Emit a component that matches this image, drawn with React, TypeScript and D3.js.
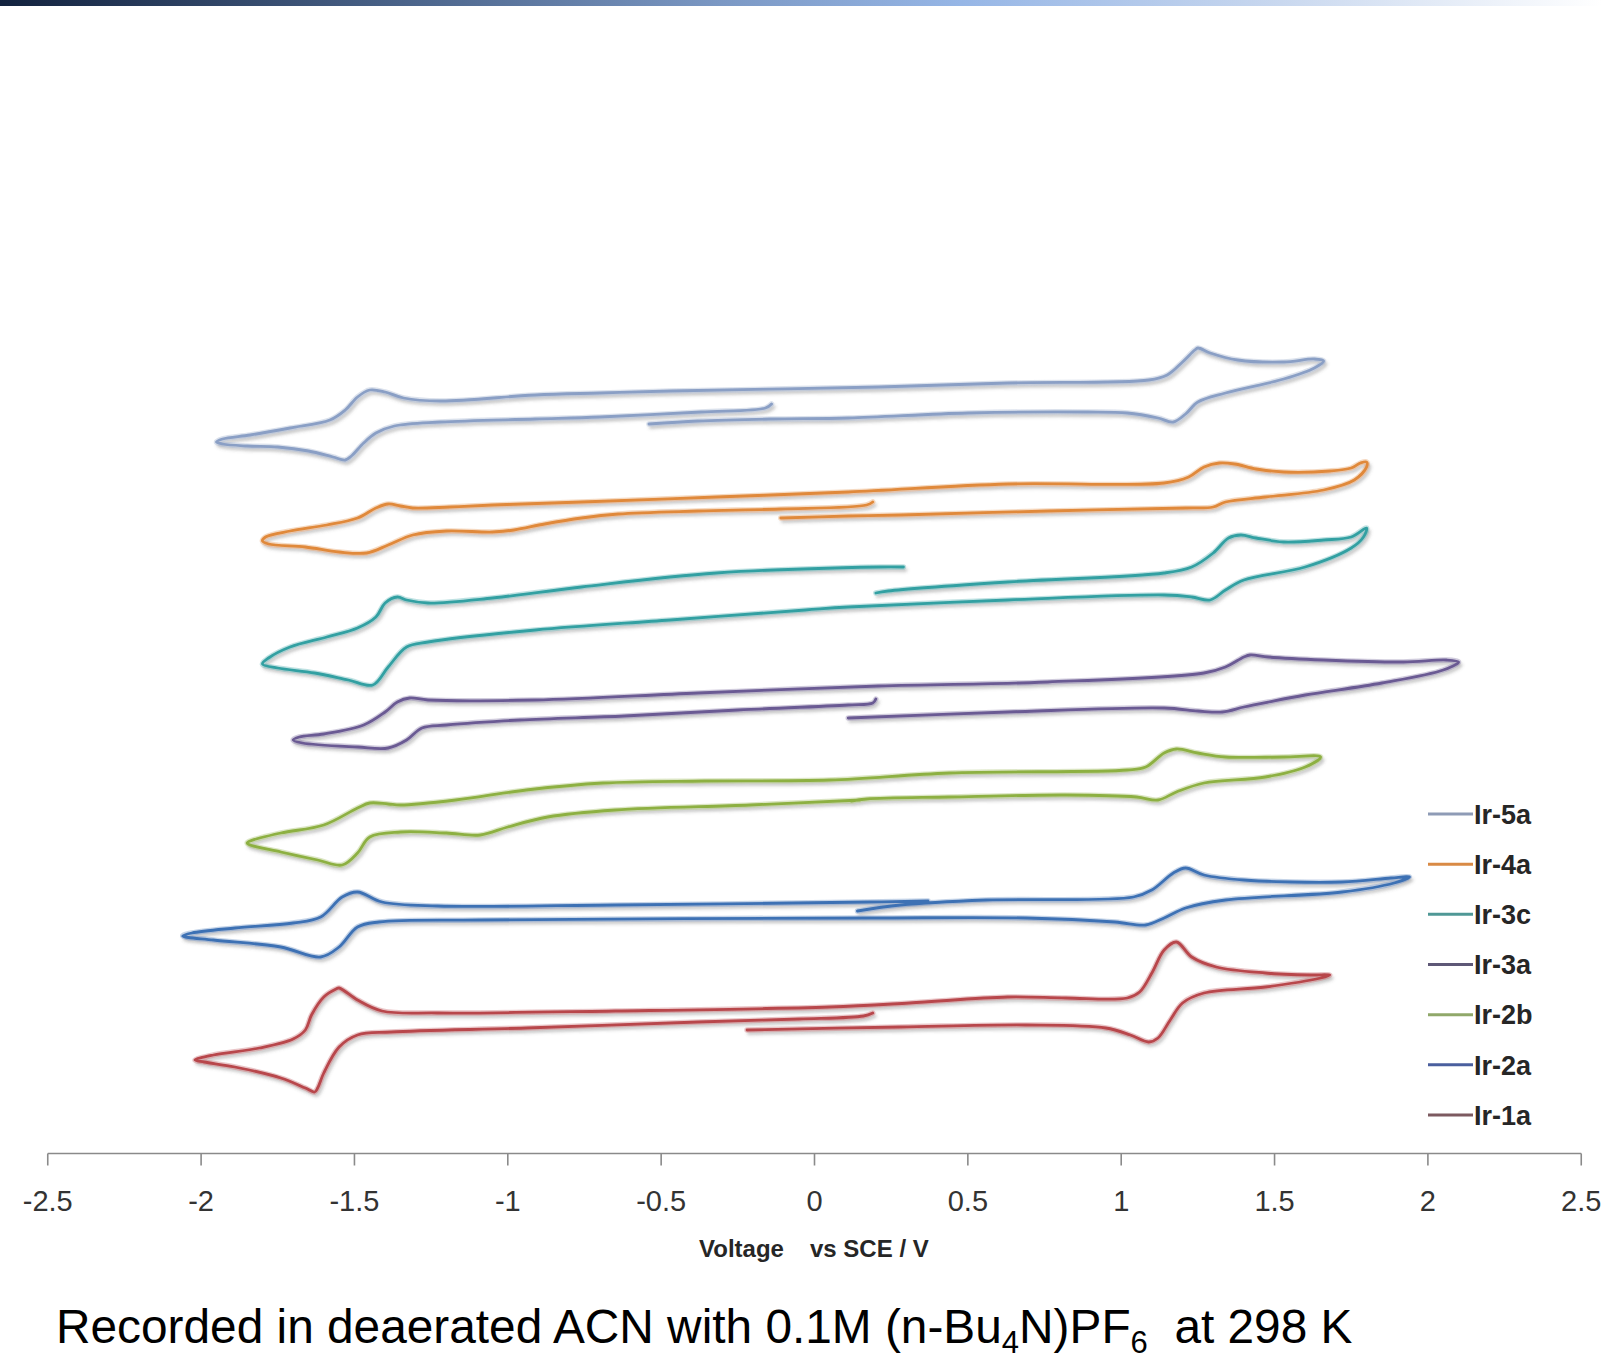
import React from 'react';
import * as d3 from 'd3';

// cyclic voltammograms, stacked; x = potential vs SCE (V), y = offset current (a.u.)
const ir5a: [number, number][] = [
  [-0.14, 74.6], [-0.16, 74.2], [-0.37, 73.8], [-0.70, 73.3], [-0.91, 73.1], [-1.22, 72.8], [-1.37, 72.4],
  [-1.43, 71.7], [-1.47, 70.7], [-1.51, 69.4], [-1.53, 69.0], [-1.57, 69.3], [-1.65, 69.9], [-1.75, 70.3],
  [-1.85, 70.4], [-1.93, 70.6], [-1.95, 70.8], [-1.93, 71.1], [-1.84, 71.5], [-1.71, 72.2], [-1.58, 73.0],
  [-1.53, 74.0], [-1.49, 75.3], [-1.45, 76.0], [-1.40, 75.8], [-1.34, 75.2], [-1.22, 74.9], [-0.91, 75.5],
  [-0.70, 75.7], [-0.47, 75.9], [0.21, 76.3], [0.63, 76.7], [1.09, 77.0], [1.15, 77.5], [1.20, 78.8],
  [1.24, 80.0], [1.25, 80.2], [1.29, 79.7], [1.38, 79.0], [1.53, 78.8], [1.63, 79.1], [1.66, 78.9],
  [1.63, 78.2], [1.53, 77.1], [1.34, 75.7], [1.25, 74.8], [1.21, 73.6], [1.17, 72.8], [1.12, 73.2],
  [1.02, 73.7], [0.89, 73.8], [0.50, 73.7], [0.11, 73.2], [-0.14, 73.1], [-0.38, 72.9], [-0.54, 72.6],
];

const ir4a: [number, number][] = [
  [0.19, 64.8], [0.17, 64.5], [-0.11, 64.1], [-0.38, 63.9], [-0.64, 63.6], [-0.76, 63.2], [-0.88, 62.6],
  [-0.98, 62.0], [-1.05, 61.8], [-1.20, 61.9], [-1.31, 61.5], [-1.39, 60.5], [-1.46, 59.7], [-1.55, 59.8],
  [-1.66, 60.3], [-1.78, 60.6], [-1.80, 60.9], [-1.79, 61.3], [-1.71, 61.9], [-1.59, 62.5], [-1.49, 63.2],
  [-1.43, 64.2], [-1.39, 64.6], [-1.35, 64.4], [-1.31, 64.2], [-1.19, 64.3], [-1.05, 64.5], [-0.76, 64.8],
  [-0.32, 65.3], [0.11, 65.8], [0.63, 66.6], [1.14, 66.7], [1.22, 67.3], [1.27, 68.3], [1.32, 68.7],
  [1.37, 68.6], [1.44, 68.1], [1.53, 67.8], [1.68, 67.9], [1.75, 68.2], [1.78, 68.7], [1.80, 68.8],
  [1.80, 68.3], [1.76, 67.0], [1.66, 66.0], [1.47, 65.3], [1.34, 64.8], [1.30, 64.3], [1.21, 64.2],
  [0.76, 63.9], [0.28, 63.5], [0.11, 63.4], [-0.11, 63.2],
];

const ir3c: [number, number][] = [
  [0.20, 55.7], [0.24, 55.9], [0.63, 56.8], [1.14, 57.7], [1.23, 58.3], [1.30, 59.7], [1.35, 61.2],
  [1.39, 61.5], [1.44, 61.2], [1.53, 60.8], [1.66, 61.0], [1.75, 61.3], [1.80, 62.2], [1.79, 61.3],
  [1.75, 60.2], [1.60, 58.3], [1.40, 57.0], [1.34, 56.0], [1.29, 55.0], [1.23, 55.3], [1.14, 55.5],
  [0.63, 55.0], [0.11, 54.3], [-0.03, 54.0], [-0.47, 53.0], [-0.91, 52.0], [-1.26, 50.8], [-1.33, 50.3],
  [-1.39, 48.3], [-1.44, 46.5], [-1.52, 47.0], [-1.63, 47.7], [-1.75, 48.2], [-1.80, 48.6], [-1.78, 49.2],
  [-1.71, 50.3], [-1.59, 51.3], [-1.49, 52.2], [-1.43, 53.3], [-1.40, 54.7], [-1.36, 55.3], [-1.33, 55.0],
  [-1.26, 54.7], [-1.05, 55.2], [-0.76, 56.3], [-0.32, 57.7], [0.21, 58.3], [0.29, 58.3],
];

const ir3a: [number, number][] = [
  [0.20, 45.1], [0.19, 44.7], [0.11, 44.5], [-0.25, 44.0], [-0.62, 43.4], [-0.96, 43.0], [-1.20, 42.5],
  [-1.28, 42.2], [-1.33, 41.0], [-1.39, 40.2], [-1.49, 40.3], [-1.67, 40.7], [-1.70, 41.0], [-1.68, 41.3],
  [-1.60, 41.6], [-1.47, 42.5], [-1.40, 43.8], [-1.36, 44.8], [-1.32, 45.2], [-1.26, 45.0], [-0.91, 45.0],
  [-0.38, 45.7], [0.21, 46.4], [0.76, 46.8], [1.27, 47.7], [1.34, 48.3], [1.40, 49.3], [1.42, 49.5],
  [1.48, 49.3], [1.66, 49.0], [1.92, 48.8], [2.06, 49.0], [2.10, 48.8], [2.05, 48.0], [1.85, 46.7],
  [1.60, 45.5], [1.48, 44.8], [1.40, 44.3], [1.33, 43.8], [1.25, 43.9], [1.14, 44.2], [0.63, 43.8],
  [0.11, 43.2],
];

const ir2b: [number, number][] = [
  [0.15, 35.0], [-0.21, 34.5], [-0.65, 34.0], [-0.87, 33.3], [-1.00, 32.3], [-1.09, 31.5], [-1.20, 31.7],
  [-1.35, 31.8], [-1.45, 31.3], [-1.49, 29.7], [-1.54, 28.5], [-1.62, 29.0], [-1.74, 29.8], [-1.84, 30.5],
  [-1.85, 30.7], [-1.84, 30.9], [-1.74, 31.7], [-1.60, 32.5], [-1.49, 34.2], [-1.45, 34.7], [-1.39, 34.6],
  [-1.35, 34.5], [-1.17, 35.0], [-0.94, 36.0], [-0.69, 36.7], [-0.36, 36.9], [0.05, 37.0], [0.44, 37.7],
  [1.02, 38.0], [1.08, 38.3], [1.14, 39.7], [1.18, 40.1], [1.25, 39.7], [1.34, 39.3], [1.53, 39.3],
  [1.65, 39.3], [1.60, 38.3], [1.47, 37.3], [1.27, 36.7], [1.18, 35.8], [1.12, 35.0], [1.05, 35.3],
  [0.82, 35.5], [0.44, 35.3], [0.17, 35.1], [0.12, 34.9],
];

const ir2a: [number, number][] = [
  [0.14, 23.9], [0.28, 24.5], [0.56, 25.0], [1.04, 25.3], [1.10, 26.0], [1.17, 27.7], [1.21, 28.2],
  [1.27, 27.5], [1.40, 27.0], [1.72, 26.8], [1.88, 27.2], [1.94, 27.3], [1.89, 26.7], [1.72, 25.8],
  [1.34, 25.0], [1.21, 24.2], [1.14, 23.2], [1.08, 22.5], [0.98, 22.8], [0.69, 23.2], [0.18, 23.2],
  [-1.09, 23.0], [-1.42, 22.8], [-1.49, 22.3], [-1.55, 20.3], [-1.61, 19.3], [-1.74, 20.3], [-1.96, 21.0],
  [-2.06, 21.4], [-2.03, 21.7], [-1.89, 22.2], [-1.70, 22.7], [-1.61, 23.3], [-1.54, 25.3], [-1.49, 25.8],
  [-1.41, 24.8], [-1.23, 24.4], [-0.65, 24.5], [0.18, 24.8], [0.37, 24.9],
];

const ir1a: [number, number][] = [
  [0.19, 13.7], [0.16, 13.4], [-0.05, 13.1], [-0.38, 12.8], [-0.94, 12.2], [-1.38, 11.8], [-1.49, 11.5],
  [-1.55, 10.3], [-1.60, 7.7], [-1.62, 6.2], [-1.63, 5.8], [-1.66, 6.2], [-1.74, 7.2], [-1.89, 8.3],
  [-1.99, 8.8], [-2.02, 9.0], [-1.96, 9.5], [-1.81, 10.2], [-1.70, 11.1], [-1.66, 12.0], [-1.64, 13.5],
  [-1.60, 15.3], [-1.56, 16.1], [-1.55, 16.2], [-1.49, 15.0], [-1.41, 13.9], [-1.23, 13.7], [-0.65, 13.9],
  [0.05, 14.3], [0.31, 14.7], [0.63, 15.3], [0.82, 15.2], [1.02, 15.2], [1.06, 15.8], [1.10, 17.7],
  [1.14, 20.0], [1.18, 20.8], [1.23, 19.3], [1.31, 18.3], [1.47, 17.7], [1.62, 17.5], [1.68, 17.5],
  [1.65, 17.2], [1.47, 16.3], [1.27, 15.7], [1.20, 14.7], [1.16, 13.0], [1.12, 11.2], [1.09, 10.8],
  [1.03, 11.5], [0.95, 12.2], [0.69, 12.5], [0.28, 12.3], [-0.22, 12.0],
];

const seriesNames = ['Ir-5a', 'Ir-4a', 'Ir-3c', 'Ir-3a', 'Ir-2b', 'Ir-2a', 'Ir-1a'];
const seriesData = [ir5a, ir4a, ir3c, ir3a, ir2b, ir2a, ir1a];
const seriesColors = ['#8a9fc5', '#e0893a', '#33a0a2', '#6a5a93', '#8db042', '#3e71b4', '#b8464c'];
const legendColors = ['#8e9bb6', '#d98a45', '#4f9896', '#5e5877', '#90a86a', '#4a5f9e', '#7c5a60'];
const xTicks = [-2.5, -2, -1.5, -1, -0.5, 0, 0.5, 1, 1.5, 2, 2.5];

const W = 1602;
const H = 1367;
const axisY = 1153.5;
const font = 'Liberation Sans, Arial, sans-serif';

export default function App() {
  const x = d3.scaleLinear().domain([-2.5, 2.5]).range([47.75, 1581.25]);
  const y = d3.scaleLinear().domain([0, 100]).range([1150, 150]);

  const line = d3.line<[number, number]>()
    .x(d => x(d[0]))
    .y(d => y(d[1]))
    .curve(d3.curveCatmullRom.alpha(0.5));

  const legendY = d3.scalePoint<string>().domain(seriesNames).range([814, 1115]);

  return (
    <svg width={W} height={H} style={{ position: 'absolute', left: 0, top: 0 }}
      xmlns="http://www.w3.org/2000/svg">
      <defs>
        <linearGradient id="topbar" x1="0" x2="1" y1="0" y2="0">
          <stop offset="0" stopColor="#12223e" />
          <stop offset="0.25" stopColor="#4a6389" />
          <stop offset="0.45" stopColor="#7b98c4" />
          <stop offset="0.6" stopColor="#96b6e6" />
          <stop offset="0.8" stopColor="#c9d8ef" />
          <stop offset="1" stopColor="#ffffff" />
        </linearGradient>
        <filter id="shadow" x="-5%" y="-20%" width="110%" height="140%">
          <feDropShadow dx="2" dy="3" stdDeviation="1.6" floodColor="#555" floodOpacity="0.35" />
        </filter>
      </defs>
      <rect x={0} y={0} width={W} height={H} fill="#ffffff" />
      <rect x={0} y={0} width={W} height={6} fill="url(#topbar)" />

      {/* traces */}
      {seriesData.map((d, i) => (
        <g key={seriesNames[i]} filter="url(#shadow)">
          <path d={line(d) || ''} fill="none" stroke={seriesColors[i]} strokeOpacity={0.3}
            strokeWidth={5.5} strokeLinejoin="round" strokeLinecap="round" />
          <path d={line(d) || ''} fill="none" stroke={seriesColors[i]}
            strokeWidth={2.8} strokeLinejoin="round" strokeLinecap="round" />
        </g>
      ))}

      {/* legend */}
      {seriesNames.map((n, i) => (
        <g key={n} transform={`translate(0,${legendY(n)})`}>
          <line x1={1428} x2={1473} y1={0} y2={0} stroke={legendColors[i]} strokeWidth={3} />
          <text x={1474} y={0} dy="0.36em" fontFamily={font}
            fontWeight="bold" fontSize={27} fill="#262626">{n}</text>
        </g>
      ))}

      {/* x axis */}
      <line x1={x(-2.5)} x2={x(2.5)} y1={axisY} y2={axisY} stroke="#8a8a8a" strokeWidth={1.6} />
      {xTicks.map(t => (
        <g key={t} transform={`translate(${x(t)},0)`}>
          <line y1={axisY} y2={axisY + 12} stroke="#8a8a8a" strokeWidth={1.6} />
          <text y={1211} textAnchor="middle" fontFamily={font}
            fontSize={29} fill="#333">{d3.format('')(t).replace('−', '-')}</text>
        </g>
      ))}
      <text x={699} y={1257} fontFamily={font} fontWeight="bold"
        fontSize={24} fill="#262626">Voltage</text>
      <text x={810} y={1257} fontFamily={font} fontWeight="bold"
        fontSize={24} fill="#262626">vs SCE / V</text>

      {/* caption */}
      <text x={56} y={1343} fontFamily={font} fontSize={47.8} fill="#000">
        Recorded in deaerated ACN with 0.1M (n-Bu<tspan fontSize={31} dy={10}>4</tspan>
        <tspan dy={-10}>N)PF</tspan><tspan fontSize={31} dy={10}>6</tspan>
        <tspan dy={-10} xmlSpace="preserve">  at 298 K</tspan>
      </text>
    </svg>
  );
}
